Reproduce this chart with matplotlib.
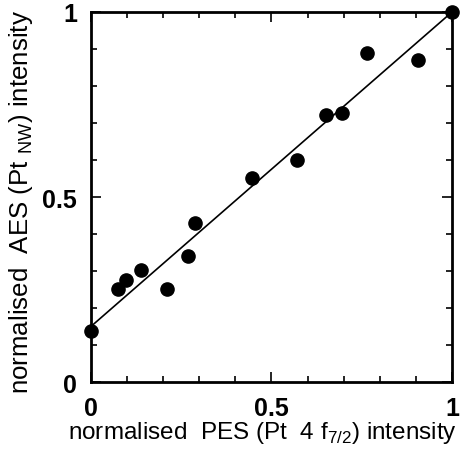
import numpy as np
import matplotlib.pyplot as plt
from matplotlib.ticker import MultipleLocator

# data
pes = [0.0, 0.076, 0.097, 0.138, 0.212, 0.270, 0.288, 0.445, 0.570, 0.650, 0.694, 0.765, 0.907, 1.0]
aes = [0.139, 0.251, 0.276, 0.303, 0.251, 0.340, 0.430, 0.551, 0.601, 0.722, 0.727, 0.889, 0.871, 1.0]
fit_x = [0.0, 1.0]
fit_y = [0.15, 1.0]

plt.rcParams['font.family'] = ['Liberation Sans', 'DejaVu Sans']
plt.rcParams['mathtext.fontset'] = 'custom'
plt.rcParams['mathtext.rm'] = 'Liberation Sans'

fig = plt.figure(figsize=(4.66, 4.56), dpi=100)
ax = fig.add_axes([0.195, 0.160, 0.775, 0.8115])

ax.plot(fit_x, fit_y, color='black', lw=1.2, zorder=2)
ax.plot(pes, aes, 'o', color='black', markersize=9.5, zorder=3, clip_on=False)

ax.set_xlim(0, 1)
ax.set_ylim(0, 1)
for a in (ax.xaxis, ax.yaxis):
    a.set_major_locator(MultipleLocator(0.5))
    a.set_minor_locator(MultipleLocator(0.1))
ax.xaxis.set_major_formatter(plt.FuncFormatter(lambda v, p: f"{v:g}"))
ax.yaxis.set_major_formatter(plt.FuncFormatter(lambda v, p: f"{v:g}"))
ax.tick_params(which='both', direction='in', top=True, right=True, width=1.2)
ax.tick_params(which='major', length=7, labelsize=18, pad=10)
ax.tick_params(which='minor', length=4)
for lab in ax.get_xticklabels() + ax.get_yticklabels():
    lab.set_fontweight('bold')
for s in ax.spines.values():
    s.set_linewidth(2)

ax.set_xlabel("normalised  PES (Pt  4 f$_{\\mathrm{7/2}}$) intensity", fontsize=17.5)
ax.xaxis.set_label_coords(0.475, -0.1)
ax.set_ylabel("normalised  AES (Pt $_{\\mathrm{NW}}$) intensity", fontsize=18.6)
ax.yaxis.set_label_coords(-0.155, 0.49)

plt.savefig("out.png", dpi=100)
